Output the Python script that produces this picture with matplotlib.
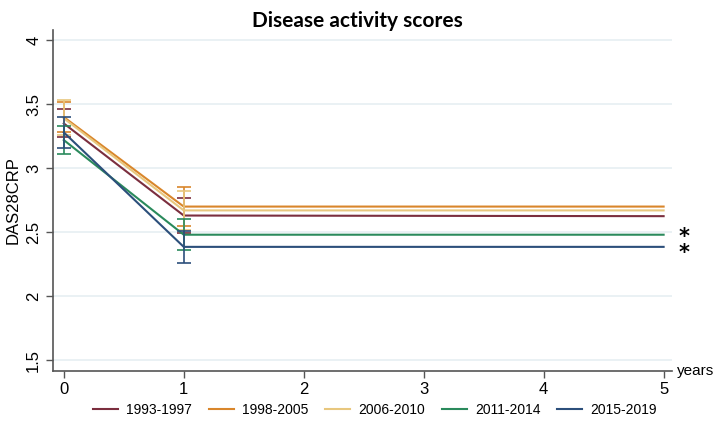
import matplotlib
matplotlib.use("Agg")
import matplotlib.pyplot as plt
import numpy as np

plt.rcParams['font.family'] = ['Liberation Sans', 'DejaVu Sans']

# data
years = [0, 1, 5]
groups = ["1993-1997", "1998-2005", "2006-2010", "2011-2014", "2015-2019"]
colors = ["#7b2e3e", "#d9862b", "#e8c77e", "#2a8a5c", "#2c4f7b"]
means = {
    "1993-1997": [3.35, 2.63, 2.625],
    "1998-2005": [3.40, 2.70, 2.70],
    "2006-2010": [3.39, 2.67, 2.67],
    "2011-2014": [3.22, 2.48, 2.48],
    "2015-2019": [3.28, 2.385, 2.385],
}
lower = {
    "1993-1997": [3.24, 2.49],
    "1998-2005": [3.28, 2.55],
    "2006-2010": [3.26, 2.52],
    "2011-2014": [3.11, 2.36],
    "2015-2019": [3.16, 2.26],
}
upper = {
    "1993-1997": [3.46, 2.77],
    "1998-2005": [3.52, 2.85],
    "2006-2010": [3.53, 2.82],
    "2011-2014": [3.33, 2.60],
    "2015-2019": [3.40, 2.51],
}
yticks = [1.5, 2, 2.5, 3, 3.5, 4]
star_groups = ["2011-2014", "2015-2019"]

fig = plt.figure(figsize=(7.14, 4.29), dpi=100)
ax = fig.add_axes([0.0742, 0.135, 0.867, 0.795])

for yt in yticks:
    ax.axhline(yt, color="#e6eff2", lw=1.2, zorder=0)

for g, c in zip(groups, colors):
    ax.plot(years, means[g], color=c, lw=1.5, label=g, zorder=3)
    m = np.array(means[g][:2])
    lo = m - np.array(lower[g])
    hi = np.array(upper[g]) - m
    ax.errorbar(years[:2], m, yerr=[lo, hi], fmt="none", ecolor=c,
                elinewidth=1.2, capsize=5, capthick=1.2, zorder=3)

# significance marks for the two most recent cohorts, one text block
star_y = np.mean([means[g][-1] for g in star_groups])
ax.annotate("\n".join("*" for g in star_groups), (5, star_y), xytext=(11, -3),
            textcoords="offset points", fontsize=15, fontweight="bold",
            family="DejaVu Sans", linespacing=0.75,
            ha="left", va="center", annotation_clip=False)

ax.set_xlim(-0.09, 5.07)
ax.set_ylim(1.414, 4.08)
ax.set_xticks(range(6))
ax.set_yticks(yticks)
ax.set_yticklabels(["1.5", "2", "2.5", "3", "3.5", "4"], rotation=90, va="center")
ax.tick_params(axis="both", labelsize=12, color="#555555", length=5, width=1)
ax.tick_params(axis="x", pad=3)
for s in ["top", "right"]:
    ax.spines[s].set_visible(False)
for s in ["left", "bottom"]:
    ax.spines[s].set_color("#555555")
    ax.spines[s].set_linewidth(1.2)
ax.set_ylabel("DAS28CRP", fontsize=12, labelpad=4)
ax.text(1.008, 0.0, "years", transform=ax.transAxes, fontsize=11,
        ha="left", va="center")
fig.suptitle("Disease activity scores", x=0.5, y=0.975, fontsize=15,
             fontweight="bold", family="Lato")

fig.legend(loc="lower center", bbox_to_anchor=(0.525, 0.0), ncol=5,
           frameon=False, fontsize=10, handlelength=1.8, handletextpad=0.6,
           columnspacing=1.2)

fig.savefig("out.png", dpi=100)
